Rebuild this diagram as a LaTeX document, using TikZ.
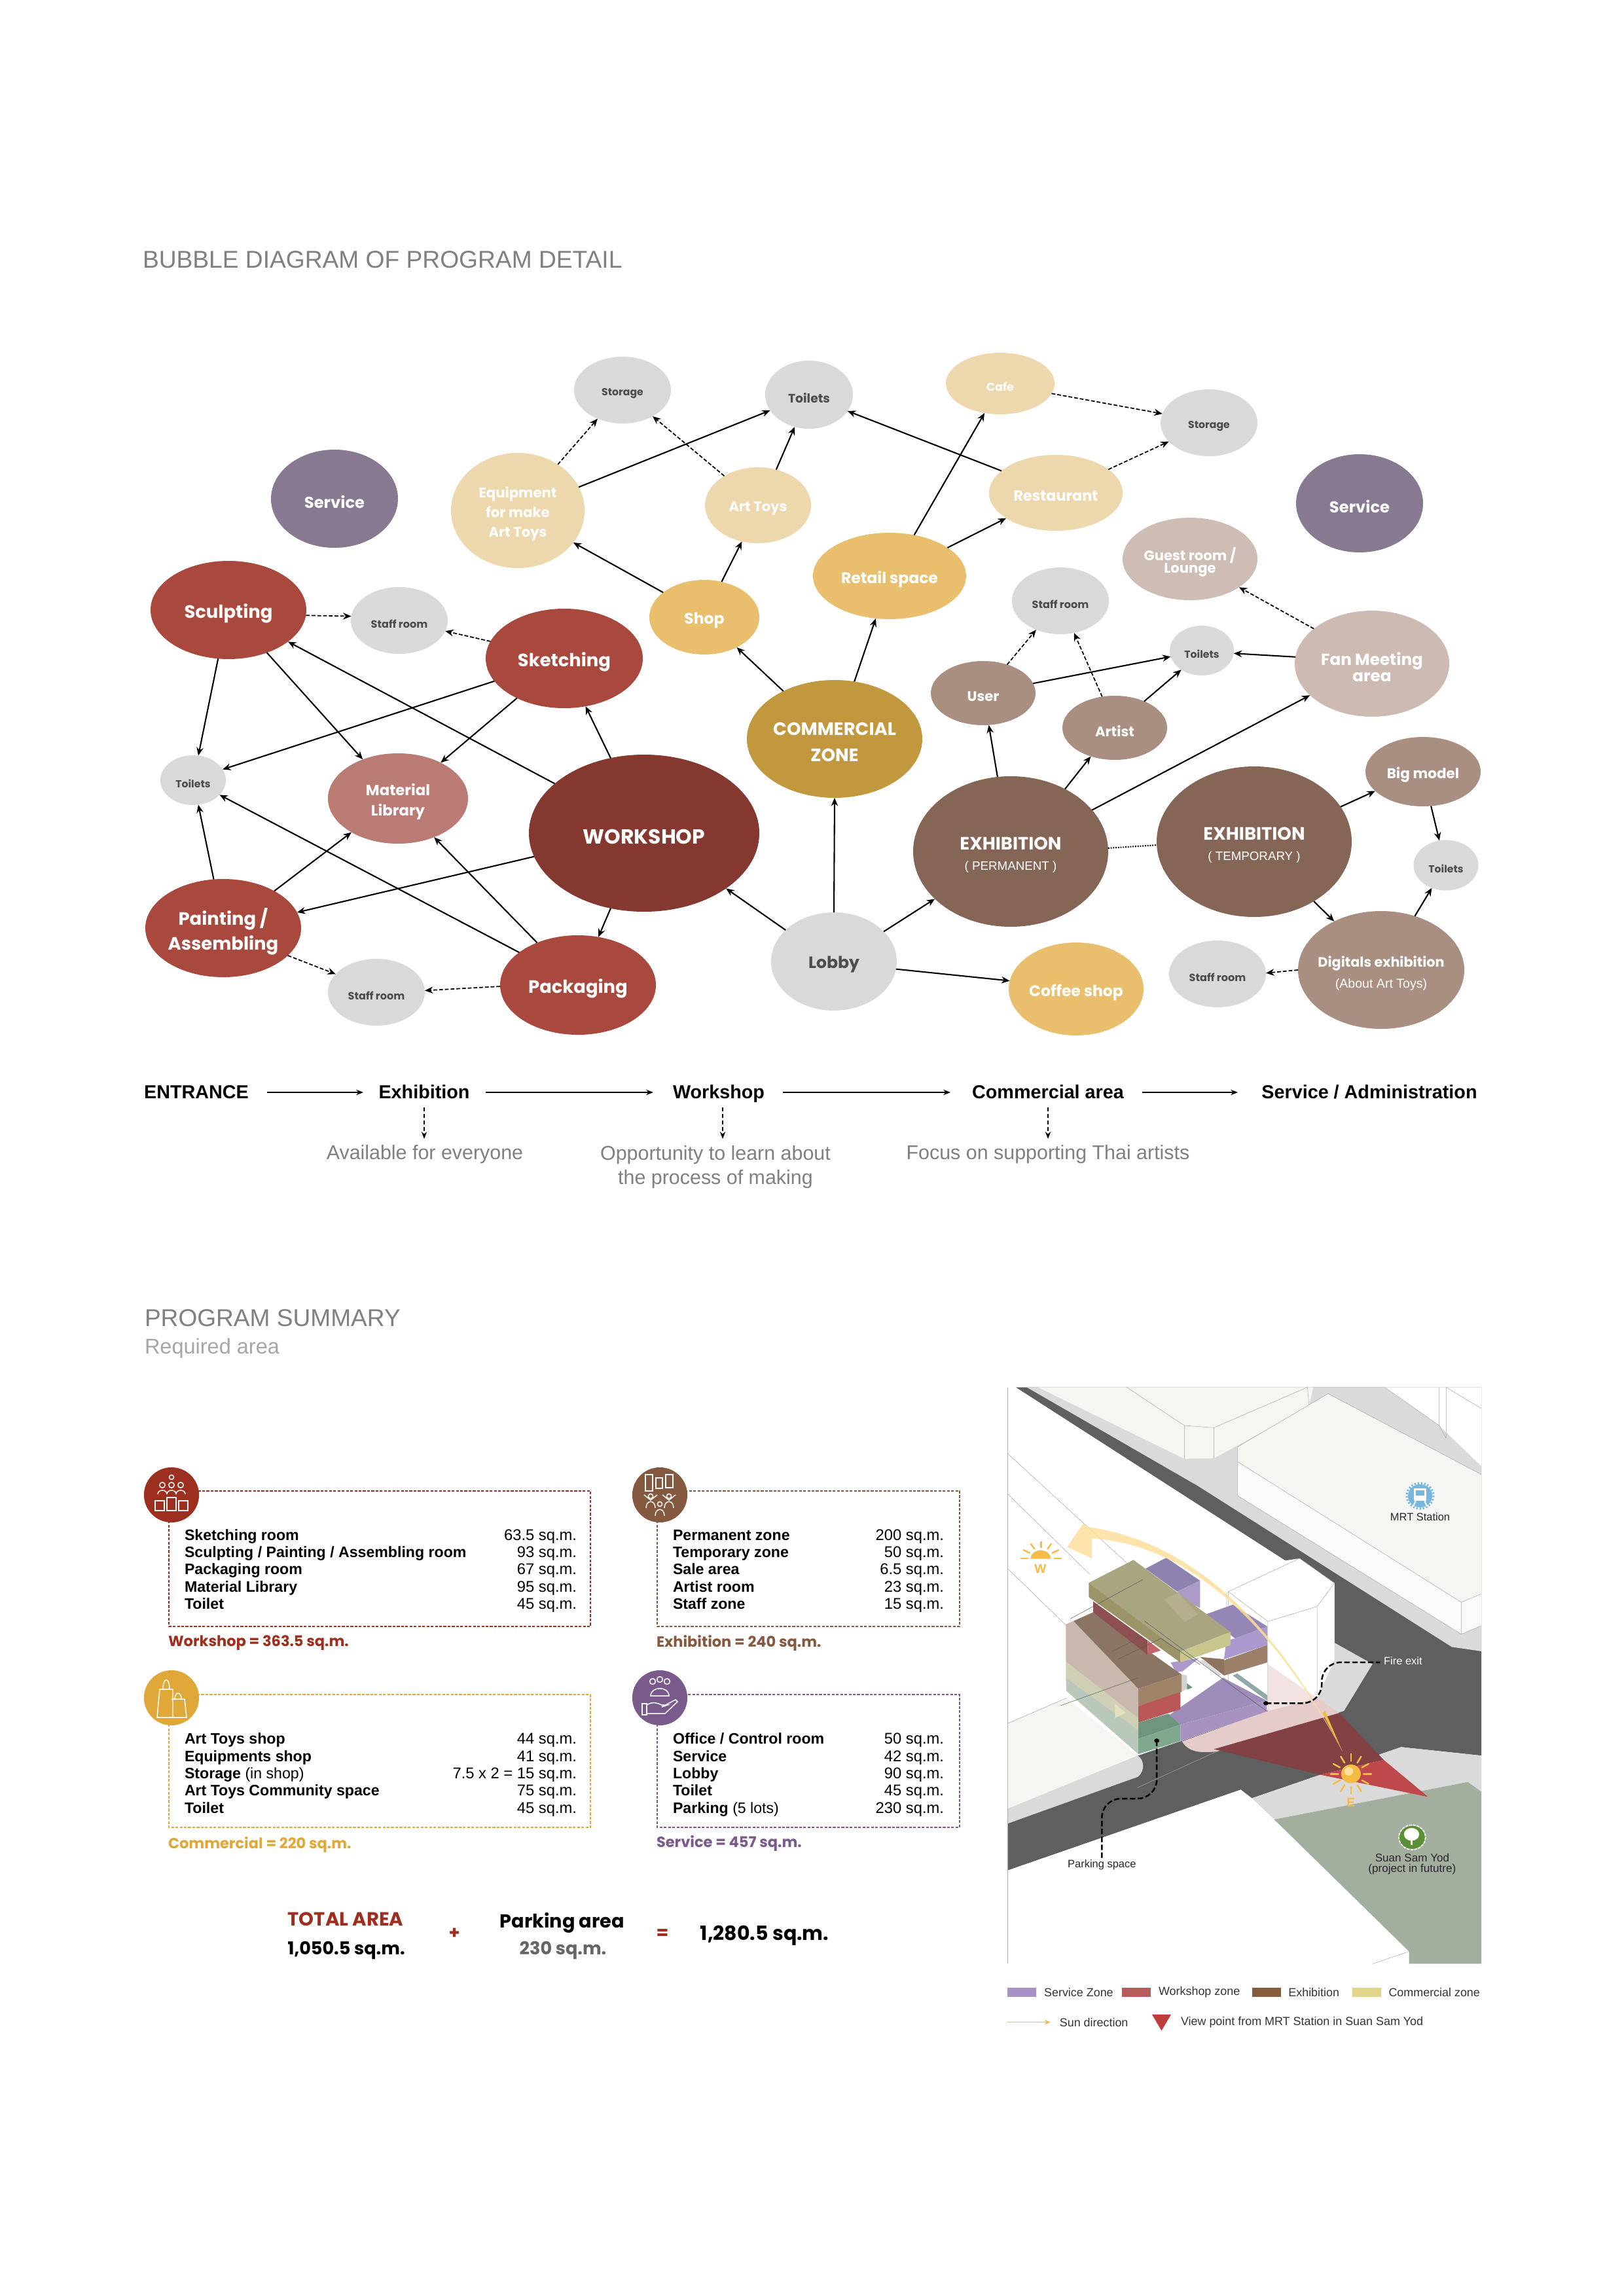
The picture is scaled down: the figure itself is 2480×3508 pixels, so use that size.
\documentclass[tikz,border=0pt]{standalone}
\usepackage{fontspec}
\setmainfont{Liberation Sans}
\newfontfamily\bubf{Poppins}
\usetikzlibrary{shapes.geometric,arrows.meta}
\definecolor{cWork}{HTML}{853830}
\definecolor{cRed}{HTML}{A9483C}
\definecolor{cMat}{HTML}{B97B74}
\definecolor{cCom}{HTML}{C2983F}
\definecolor{cGold}{HTML}{E9BF6E}
\definecolor{cCream}{HTML}{EDD8AE}
\definecolor{cGrey}{HTML}{D9D9D9}
\definecolor{cServ}{HTML}{87798F}
\definecolor{cExh}{HTML}{856556}
\definecolor{cExl}{HTML}{A98F82}
\definecolor{cFan}{HTML}{CDBAB2}
\definecolor{cGuest}{HTML}{CDBDB5}
\definecolor{tDark}{HTML}{4D4D4D}
\definecolor{bWork}{HTML}{9D2F20}
\definecolor{bExh}{HTML}{85593F}
\definecolor{bCom}{HTML}{E0A838}
\definecolor{bSrv}{HTML}{7A5A8C}
\definecolor{road}{HTML}{5F5F5F}
\definecolor{walk}{HTML}{DADADA}
\definecolor{park}{HTML}{A3AE9E}
\definecolor{bldg}{HTML}{F5F5F2}
\definecolor{mPur}{HTML}{A692C4}
\definecolor{mRed}{HTML}{B85A5C}
\definecolor{mBrn}{HTML}{855C3E}
\definecolor{mYel}{HTML}{E0D58A}
\definecolor{sunY}{HTML}{FBDF9B}
\definecolor{sunO}{HTML}{F5BC45}
\tikzset{
 bubble/.style={ellipse,inner sep=-200pt,outer sep=0pt,text=white},
 fs/.style 2 args={font=\bubf\bfseries\fontsize{\fpeval{0.94*#1}}{#2}\selectfont},
 arr/.style={draw=black,line width=0.5pt,-{Stealth[length=3pt,width=2.5pt]}},
 darr/.style={arr,line width=0.42pt,dash pattern=on 1.4pt off 0.7pt},
 dotline/.style={draw=black,line width=0.5pt,dash pattern=on 0.45pt off 0.45pt},
 flowarr/.style={draw=black,line width=0.4pt,-{Stealth[length=2.6pt,width=2pt]}},
 flowd/.style={draw=black,line width=0.4pt,dash pattern=on 1.4pt off 1pt,-{Stealth[length=2.6pt,width=2pt]}},
 htext/.style={inner sep=0pt,outer sep=0pt},
 boxline/.style={line width=0.5pt,dash pattern=on 1pt off 0.55pt},
 rowl/.style={htext,anchor=base west,font=\bfseries\fontsize{5.55}{6.4}\selectfont},
 rowr/.style={htext,anchor=base east,font=\fontsize{5.7}{6.4}\selectfont},
 sumt/.style={htext,anchor=west,font=\bubf\bfseries\fontsize{5.4}{6}\selectfont},
 tot/.style={htext,font=\bubf\bfseries\fontsize{6.5}{7}\selectfont},
 icon/.style={draw=white,line width=0.35pt,fill=none},
 stxt/.style={htext,font=\fontsize{3.95}{4.2}\selectfont,text=black!85},
 leader/.style={draw=black,line width=0.6pt,dash pattern=on 2pt off 0.9pt},
 thin site/.style={draw=black!35,line width=0.12pt},
 mline/.style={draw=black!65,line width=0.12pt},
 lgd/.style={htext,anchor=west,font=\fontsize{4.3}{4.6}\selectfont,text=black!80},
 flowt/.style={htext,anchor=base,font=\bfseries\fontsize{6.9}{8}\selectfont},
 desc/.style={htext,text=black!50,font=\fontsize{7.3}{9.1}\selectfont,align=center},
}
\newcommand\Bub[7]{\node[bubble,minimum width={2*#4*0.24pt},minimum height={2*#5*0.24pt},#6] (#1) at (#2,#3) {\raisebox{-1.2pt}[\height][\depth]{\parbox{200pt}{\centering #7}}};}
\begin{document}
\begin{tikzpicture}[x=0.24pt,y=-0.24pt]
\useasboundingbox (0,0) rectangle (2480,3508);
\fill[white] (0,0) rectangle (2480,3508);

\node[htext,anchor=west,text=black!50,font=\fontsize{8.92}{10}\selectfont] (title1) at (218,397) {BUBBLE DIAGRAM OF PROGRAM DETAIL};

% ---------- bubbles
\Bub{storageA}{951}{596}{74}{51}{fill=cGrey,text=tDark,fs={4}{5}}{Storage}
\Bub{toiletsT}{1236}{603}{67}{52}{fill=cGrey,text=tDark,fs={4.8}{6}}{Toilets}
\Bub{cafe}{1528}{586}{83}{47}{fill=cCream,fs={4.4}{5}}{Cafe}
\Bub{storageB}{1847}{646}{74}{51}{fill=cGrey,text=tDark,fs={4}{5}}{Storage}
\Bub{serviceA}{511}{762}{97}{75}{fill=cServ,fs={6.2}{7}}{Service}
\Bub{serviceB}{2077}{769}{97}{75}{fill=cServ,fs={6.2}{7}}{Service}
\Bub{equip}{791}{780}{102}{88}{fill=cCream,fs={5.4}{7.2}}{Equipment\\for make\\Art Toys}
\Bub{arttoys}{1158}{772}{81}{58}{fill=cCream,fs={5.4}{7}}{Art Toys}
\Bub{restaurant}{1613}{753}{102}{58}{fill=cCream,fs={5.7}{7}}{Restaurant}
\Bub{guest}{1818}{854}{103}{63}{fill=cGuest,fs={5.4}{4.6}}{Guest room /\\Lounge}
\Bub{retail}{1359}{880}{117}{66}{fill=cGold,fs={6}{7}}{Retail space}
\Bub{shop}{1076}{943}{84}{57}{fill=cGold,fs={6}{7}}{Shop}
\Bub{sculpt}{349}{932}{119}{75}{fill=cRed,fs={7}{8}}{Sculpting}
\Bub{staffA}{610}{948}{74}{51}{fill=cGrey,text=tDark,fs={4.1}{5}}{Staff room}
\Bub{staffC}{1620}{918}{74}{51}{fill=cGrey,text=tDark,fs={4.1}{5}}{Staff room}
\Bub{sketch}{862}{1006}{120}{76}{fill=cRed,fs={7}{8}}{Sketching}
\Bub{toiletsM}{1836}{994}{49}{38}{fill=cGrey,text=tDark,fs={4}{5}}{Toilets}
\Bub{fan}{2096}{1014}{118}{81}{fill=cFan,fs={6.3}{6}}{Fan Meeting\\area}
\Bub{user}{1502}{1059}{80}{49}{fill=cExl,fs={5.4}{6}}{User}
\Bub{artist}{1703}{1112}{80}{49}{fill=cExl,fs={5.4}{6}}{Artist}
\Bub{commercial}{1275}{1129}{134}{90}{fill=cCom,fs={7}{9.6}}{COMMERCIAL\\ZONE}
\Bub{toiletsL}{295}{1192}{50}{38}{fill=cGrey,text=tDark,fs={4}{5}}{Toilets}
\Bub{material}{608}{1220}{107}{69}{fill=cMat,fs={5.8}{7.4}}{Material\\Library}
\Bub{workshop}{984}{1273}{176}{120}{fill=cWork,fs={8}{9}}{WORKSHOP}
\Bub{bigmodel}{2174}{1179}{88}{53}{fill=cExl,fs={5.5}{6}}{Big model}
\Bub{exhP}{1544}{1301}{149}{115}{fill=cExh,fs={7}{7.8}}{EXHIBITION\\[-0.4pt]{\fontsize{4.5}{5}\selectfont\rmfamily\mdseries ( PERMANENT )}}
\Bub{exhT}{1916}{1286}{149}{115}{fill=cExh,fs={7}{7.8}}{EXHIBITION\\[-0.4pt]{\fontsize{4.5}{5}\selectfont\rmfamily\mdseries ( TEMPORARY )}}
\Bub{toiletsR}{2209}{1322}{49.5}{38.5}{fill=cGrey,text=tDark,fs={4}{5}}{Toilets}
\Bub{painting}{341}{1418}{119}{75}{fill=cRed,fs={7}{9}}{Painting /\\Assembling}
\Bub{lobby}{1274}{1469}{96}{75}{fill=cGrey,text=tDark,fs={6.4}{7}}{Lobby}
\Bub{digital}{2110}{1482}{127}{90}{fill=cExl,fs={5.3}{7.6}}{Digitals exhibition\\{\fontsize{4.7}{6}\selectfont\rmfamily\mdseries (About Art Toys)}}
\Bub{staffD}{1860}{1488}{74}{51}{fill=cGrey,text=tDark,fs={4.1}{5}}{Staff room}
\Bub{coffee}{1644}{1511}{103}{71}{fill=cGold,fs={6}{7}}{Coffee shop}
\Bub{staffB}{575}{1516}{74}{51}{fill=cGrey,text=tDark,fs={4.1}{5}}{Staff room}
\Bub{packaging}{883}{1505}{119}{76}{fill=cRed,fs={7}{8}}{Packaging}

% ---------- connectors
\draw[darr] (equip.49.7) -- (storageA.229.6);
\draw[arr] (equip.21.7) -- (toiletsT.202.6);
\draw[darr] (arttoys.139) -- (storageA.319.3);
\draw[arr] (shop.149.3) -- (equip.330);
\draw[arr] (shop.64.3) -- (arttoys.246);
\draw[arr] (arttoys.63.9) -- (toiletsT.246.2);
\draw[arr] (commercial.137.3) -- (shop.317.3);
\draw[darr] (sculpt.356.6) -- (staffA.175.4);
\draw[darr] (sketch.167) -- (staffA.347);
\draw[arr] (workshop.114.3) -- (sketch.294.6);
\draw[arr] (workshop.151.3) -- (sculpt.332.2);
\draw[arr] (sculpt.258) -- (toiletsL.78);
\draw[arr] (sculpt.312.3) -- (material.132.5);
\draw[arr] (sketch.198.4) -- (toiletsL.20.3);
\draw[arr] (sketch.220.6) -- (material.40.2);
\draw[arr] (painting.101.3) -- (toiletsL.282);
\draw[arr] (painting.36.5) -- (material.216.4);
\draw[arr] (workshop.192.5) -- (painting.12.6);
\draw[arr] (packaging.151.7) -- (toiletsL.331.8);
\draw[arr] (packaging.134.1) -- (material.313.5);
\draw[arr] (workshop.246.3) -- (packaging.67);
\draw[darr] (painting.337) -- (staffB.156.8);
\draw[darr] (packaging.181.9) -- (staffB.2.3);
\draw[arr] (lobby.147) -- (workshop.326.3);
\draw[arr] (restaurant.158.8) -- (toiletsT.337.4);
\draw[arr] (retail.59.6) -- (cafe.242.4);
\draw[arr] (retail.26.3) -- (restaurant.207.4);
\draw[darr] (cafe.349.4) -- (storageB.169.6);
\draw[darr] (restaurant.24.2) -- (storageB.205.4);
\draw[arr] (commercial.71.2) -- (retail.252.3);
\draw[darr] (fan.149.5) -- (guest.330.2);
\draw[darr] (user.50) -- (staffC.230);
\draw[darr] (artist.112.6) -- (staffC.293.2);
\draw[arr] (user.11.7) -- (toiletsM.191.8);
\draw[arr] (artist.42.3) -- (toiletsM.223);
\draw[arr] (fan.175.6) -- (toiletsM.355.4);
\draw[arr] (exhP.100) -- (user.280.6);
\draw[arr] (exhP.49.8) -- (artist.230);
\draw[arr] (exhP.27.9) -- (fan.207.5);
\draw[dotline] (exhP.2.7) -- (exhT.182.3);
\draw[arr] (lobby.90) -- (commercial.270);
\draw[arr] (lobby.31.6) -- (exhP.212);
\draw[arr] (lobby.353.5) -- (coffee.173.2);
\draw[arr] (exhT.22.6) -- (bigmodel.202.6);
\draw[arr] (bigmodel.283.8) -- (toiletsR.105);
\draw[arr] (exhT.315) -- (digital.134.2);
\draw[arr] (digital.58.7) -- (toiletsR.238.6);
\draw[darr] (digital.180.9) -- (staffD.1.5);

% ---------- flow
\node[flowt] (fE) at (300,1678) {ENTRANCE};
\node[flowt] (fX) at (648,1678) {Exhibition};
\node[flowt] (fW) at (1098,1678) {Workshop};
\node[flowt] (fC) at (1601,1678) {Commercial area};
\node[flowt] (fS) at (2092,1678) {Service / Administration};
\coordinate (fE1) at (408,1669); \coordinate (fE2) at (555,1669);
\coordinate (fX1) at (742,1669); \coordinate (fX2) at (998,1669);
\coordinate (fW1) at (1196,1669); \coordinate (fW2) at (1452,1669);
\coordinate (fC1) at (1745,1669); \coordinate (fC2) at (1891,1669);
\draw[flowarr] (fE1) -- (fE2);
\draw[flowarr] (fX1) -- (fX2);
\draw[flowarr] (fW1) -- (fW2);
\draw[flowarr] (fC1) -- (fC2);
\node[desc] (dX) at (649,1764) {Available for everyone};
\node[desc,anchor=north] (dW) at (1093,1750) {Opportunity to learn about\\the process of making};
\node[desc] (dC) at (1601,1764) {Focus on supporting Thai artists};
\coordinate (fXd) at (648,1692); \coordinate (fXe) at (648,1740);
\coordinate (fWd) at (1104,1692); \coordinate (fWe) at (1104,1740);
\coordinate (fCd) at (1601,1692); \coordinate (fCe) at (1601,1740);
\draw[flowd] (fXd) -- (fXe);
\draw[flowd] (fWd) -- (fWe);
\draw[flowd] (fCd) -- (fCe);

% ---------- program summary
\node[htext,anchor=west,text=black!50,font=\fontsize{8.9}{10}\selectfont] (title2) at (221,2014) {PROGRAM SUMMARY};
\node[htext,anchor=west,text=black!35,font=\fontsize{7.8}{9}\selectfont] (title3) at (221,2060) {Required area};

\draw[bWork,boxline] (258,2278) rectangle (902,2485);
\draw[bExh,boxline] (1004,2278) rectangle (1466,2485);
\draw[bCom,boxline] (258,2589) rectangle (902,2792);
\draw[bSrv,boxline] (1004,2589) rectangle (1466,2792);
\node[circle,fill=bWork,minimum size=20.2pt,inner sep=0pt] (ic1) at (262,2284) {};
\node[circle,fill=bExh,minimum size=20.2pt,inner sep=0pt] (ic2) at (1008,2284) {};
\node[circle,fill=bCom,minimum size=20.2pt,inner sep=0pt] (ic3) at (262,2594) {};
\node[circle,fill=bSrv,minimum size=20.2pt,inner sep=0pt] (ic4) at (1008,2594) {};
% icons
\begin{scope}[shift={(262,2284)}]
 \draw[icon] (0,-27) circle (3.5);
 \foreach \a in {-14,0,14} {\draw[icon] (\a,-15) circle (4.2); \draw[icon] (\a-7,-1) .. controls (\a-7,-9) and (\a+7,-9) .. (\a+7,-1);}
 \draw[icon] (-7,4) rectangle (7,24);
 \draw[icon] (-25,9) rectangle (-11,24);
 \draw[icon] (11,9) rectangle (25,24);
\end{scope}
\begin{scope}[shift={(1008,2284)}]
 \draw[icon] (-22,-31) rectangle (-11,-6);
 \draw[icon] (-6,-26) rectangle (4,-10);
 \draw[icon] (9,-31) rectangle (20,-11);
 \foreach \a/\b in {-14/2,0/14,14/2} {\draw[icon] (\a,\b) circle (3.6); \draw[icon] (\a-7,\b+18) .. controls (\a-7,\b+5) and (\a+7,\b+5) .. (\a+7,\b+18);}
 \draw[icon] (-24,0) -- (-14,8) -- (-4,0);
 \draw[icon] (4,0) -- (14,8) -- (24,0);
\end{scope}
\begin{scope}[shift={(262,2594)}]
 \draw[icon] (-18,-13) -- (2,-13) -- (2,30) -- (-22,30) -- cycle;
 \draw[icon] (-13,-13) .. controls (-13,-32) and (-3,-32) .. (-3,-13);
 \draw[icon] (0,2) -- (20,2) -- (23,30) -- (-2,30);
 \draw[icon] (5,2) .. controls (5,-10) and (15,-10) .. (15,2);
\end{scope}
\begin{scope}[shift={(1008,2594)}]
 \foreach \a/\b in {-11/-25,11/-25,0/-28} {\draw[icon] (\a,\b) circle (4.4);}
 \draw[icon] (-14,-3) .. controls (-14,-18) and (14,-18) .. (14,-3) -- cycle;
 \draw[icon] (-27,9) rectangle (-20,26);
 \draw[icon] (-20,11) .. controls (-10,5) and (-4,8) .. (3,11) -- (12,11) -- (3,14) (3,14) -- (24,3) -- (27,6) -- (8,24) -- (-20,24);
\end{scope}

% box rows
\foreach \n/\y/\t/\v in {a/2353/Sketching room/63.5 sq.m.,b/2379/Sculpting \slash{} Painting \slash{} Assembling room/93 sq.m.,c/2405/Packaging room/67 sq.m.,d/2432/Material Library/95 sq.m.,e/2458/Toilet/45 sq.m.}
 {\node[rowl] (w\n) at (282,\y) {\t}; \node[rowr] (wv\n) at (881,\y) {\v};}
\foreach \n/\y/\t/\v in {a/2353/Permanent zone/200 sq.m.,b/2379/Temporary zone/50 sq.m.,c/2405/Sale area/6.5 sq.m.,d/2432/Artist room/23 sq.m.,e/2458/Staff zone/15 sq.m.}
 {\node[rowl] (x\n) at (1028,\y) {\t}; \node[rowr] (xv\n) at (1442,\y) {\v};}
\foreach \n/\y/\t/\v in {a/2664/Art Toys shop/44 sq.m.,b/2691/Equipments shop/41 sq.m.,c/2717/Storage {\mdseries (in shop)}/7.5 x 2 = 15 sq.m.,d/2743/Art Toys Community space/75 sq.m.,e/2770/Toilet/45 sq.m.}
 {\node[rowl] (c\n) at (282,\y) {\t}; \node[rowr] (cv\n) at (881,\y) {\v};}
\foreach \n/\y/\t/\v in {a/2664/Office \slash{} Control room/50 sq.m.,b/2691/Service/42 sq.m.,c/2717/Lobby/90 sq.m.,d/2743/Toilet/45 sq.m.,e/2770/Parking {\mdseries (5 lots)}/230 sq.m.}
 {\node[rowl] (s\n) at (1028,\y) {\t}; \node[rowr] (sv\n) at (1442,\y) {\v};}

\node[sumt,text=bWork] (sumW) at (257,2510) {Workshop = 363.5 sq.m.};
\node[sumt,text=bExh] (sumX) at (1003,2510) {Exhibition = 240 sq.m.};
\node[sumt,text=bCom] (sumC) at (257,2818) {Commercial = 220 sq.m.};
\node[sumt,text=bSrv] (sumS) at (1003,2816) {Service = 457 sq.m.};

\node[tot,text=bWork,font=\bubf\bfseries\fontsize{7}{8}\selectfont] (tA) at (528,2932) {TOTAL AREA};
\node[tot] (tB) at (529,2980) {1,050.5 sq.m.};
\node[tot,text=bWork] (tP) at (694,2954) {+};
\node[tot,font=\bubf\bfseries\fontsize{6.9}{8}\selectfont] (tC) at (859,2938) {Parking area};
\node[tot,text=black!60] (tD) at (860,2980) {230 sq.m.};
\node[tot,text=bWork] (tE) at (1012,2955) {=};
\node[tot,font=\bubf\bfseries\fontsize{7.2}{8}\selectfont] (tF) at (1168,2957) {1,280.5 sq.m.};

% ---------- site plan
\begin{scope}[shift={(1520,2100)},x=0.11634pt,y=-0.15615pt]
\begin{scope}
\clip (39,30) rectangle (1533,1384);
\fill[road] (65,30) -- (1533,30) -- (1533,895) -- (1280,875) -- (810,995) -- (775,975) -- (39,1165) -- (39,1050) -- cycle;
\fill[walk] (100,30) -- (640,262) -- (1440,640) -- (1533,650) -- (1533,30) -- cycle;
% upper row building
\fill[bldg] (135,30) -- (597,198) -- (690,197) -- (990,75) -- (1003,30) -- cycle;
\draw[thin site] (415,30) -- (597,120) -- (690,125) -- (985,30);
\draw[thin site] (597,120) -- (597,198) (690,125) -- (690,197) (985,30) -- (990,75);
% right building
\fill[bldg] (765,170) -- (1050,45) -- (1533,235) -- (1533,515) -- (1470,535) -- (765,205) -- cycle;
\fill[black!2] (765,205) -- (1470,535) -- (1470,610) -- (765,285) -- cycle;
\fill[black!2] (1470,535) -- (1533,515) -- (1533,590) -- (1470,610) -- cycle;
\draw[thin site] (765,170) -- (1050,45) -- (1533,235) (765,170) -- (765,285) -- (1470,610) -- (1533,590) (765,205) -- (1470,535) -- (1533,515) (1470,535) -- (1470,610);
\fill[white] (1228,30) -- (1400,120) -- (1533,215) -- (1533,30) -- cycle;
\draw[thin site] (1228,30) -- (1400,120) -- (1422,150) (1400,30) -- (1400,120) (1422,30) -- (1422,150) (1422,30) -- (1533,80);
% left block
\fill[white] (39,30) -- (65,30) -- (915,437) -- (960,432) -- (1070,490) -- (1070,630) -- (860,790) -- (590,860) -- (450,895) -- (39,1020) -- cycle;
\fill[walk] (39,1020) -- (450,895) .. controls (470,905) and (475,930) .. (450,945) -- (39,1055) -- cycle;
\fill[bldg] (39,820) -- (225,760) -- (450,895) -- (39,1020) -- cycle;
\draw[thin site] (39,185) -- (470,480) (39,280) -- (300,470) (39,455) -- (225,590) (39,820) -- (225,760);
\draw[thin site] (450,970) -- (700,885);
% lower plaza
\fill[white] (39,1165) -- (775,975) -- (1305,1355) -- (1305,1384) -- (39,1384) -- cycle;
\fill[walk] (810,995) -- (1280,875) -- (1533,895) -- (1533,980) -- (1490,957) -- (880,1045) -- cycle;
\fill[park] (880,1045) -- (1490,957) -- (1533,980) -- (1533,1384) -- (1305,1384) -- (1305,1355) -- cycle;
\draw[thin site] (1190,1384) -- (1305,1355);
% sidewalk by tower
\fill[walk] (590,862) .. controls (610,885) and (640,890) .. (700,885) -- (1100,790) -- (1190,680) -- (1070,630) -- (860,790) -- cycle;
% view cone
\fill[fill={rgb,255:red,229;green,204;blue,202}] (860,790) -- (1015,760) -- (1085,795) -- (700,885) .. controls (640,890) and (610,885) .. (590,862) -- cycle;
\fill[fill={rgb,255:red,130;green,66;blue,68}] (690,880) -- (1085,795) -- (1225,905) -- (1025,940) -- cycle;
\fill[fill={rgb,255:red,190;green,72;blue,76}] (1025,940) -- (1225,905) -- (1365,992) -- cycle;
% tower
\fill[white] (860,580) -- (1015,545) -- (1070,490) -- (1070,670) -- (1015,760) -- (860,790) -- cycle;
\fill[white] (735,510) -- (960,432) -- (1070,490) -- (1015,545) -- (860,580) -- cycle;
\fill[fill={rgb,255:red,242;green,226;blue,226}] (860,680) -- (1015,760) -- (860,790) -- cycle;
\fill[fill={rgb,255:red,232;green,205;blue,205}] (1015,760) -- (1040,770) -- (1015,778) -- cycle;
\draw[thin site] (735,510) -- (860,580) -- (1015,545) -- (1070,490) (860,580) -- (860,790) (1015,545) -- (1015,760) (735,510) -- (735,720) -- (860,790) (730,510) -- (730,700) (735,510) -- (960,432) -- (1070,490);
\end{scope}
\end{scope}
% masses in crop coordinates
\begin{scope}[shift={(1620,2350)},x=0.08pt,y=-0.08pt]
\fill[fill={rgb,255:red,142;green,131;blue,176}] (390,140) -- (485,90) -- (640,195) -- (535,245) -- cycle;
\fill[fill={rgb,255:red,171;green,155;blue,200}] (535,245) -- (640,195) -- (640,320) -- (580,290) -- cycle;
\fill[fill={rgb,255:red,148;green,135;blue,181}] (665,350) -- (790,305) -- (948,405) -- (800,460) -- cycle;
\fill[fill={rgb,255:red,171;green,152;blue,204}] (760,470) -- (800,460) -- (948,405) -- (948,490) -- (750,555) -- cycle;
\fill[fill={rgb,255:red,155;green,127;blue,104}] (750,560) -- (948,490) -- (948,570) -- (750,630) -- cycle;
\fill[fill={rgb,255:red,143;green,115;blue,94}] (640,545) -- (750,555) -- (750,630) -- cycle;
\fill[fill={rgb,255:red,143;green,169;blue,168}] (790,630) -- (810,620) -- (948,720) -- (948,745) -- cycle;
\fill[fill={rgb,255:red,156;green,141;blue,187}] (500,810) -- (745,640) -- (945,745) -- (550,855) -- cycle;
\fill[fill={rgb,255:red,168;green,146;blue,194}] (550,855) -- (945,745) -- (945,795) -- (550,930) -- cycle;
\fill[fill={rgb,255:red,171;green,152;blue,204}] (505,570) -- (635,550) -- (560,610) -- (530,615) -- cycle;
\fill[black!15] (640,565) -- (655,555) -- (735,625) -- (725,635) -- cycle;
\fill[black!18] (555,625) -- (580,630) -- (580,690) -- (555,705) -- cycle;
\fill[fill={rgb,255:red,111;green,149;blue,128}] (580,665) -- (605,685) -- (580,695) -- cycle;
% left stack
\fill[fill={rgb,255:red,200;green,184;blue,174}] (25,395) -- (60,380) -- (357,640) -- (357,845) -- (25,565) -- cycle;
\fill[fill={rgb,255:red,207;green,207;blue,181}] (25,565) -- (357,825) -- (357,880) -- (25,640) -- cycle;
\fill[fill={rgb,255:red,185;green,200;blue,186}] (25,640) -- (357,880) -- (357,990) -- (27,700) -- cycle;
\fill[fill={rgb,255:red,225;green,225;blue,190}] (250,760) -- (300,800) -- (250,825) -- cycle;
\fill[fill={rgb,255:red,138;green,117;blue,101}] (60,380) -- (150,340) -- (555,625) -- (357,690) -- cycle;
\fill[fill={rgb,255:red,159;green,132;blue,104}] (357,690) -- (555,625) -- (555,705) -- (357,770) -- cycle;
\fill[fill={rgb,255:red,184;green,86;blue,88}] (357,770) -- (550,705) -- (550,785) -- (357,845) -- cycle;
\fill[fill={rgb,255:red,111;green,149;blue,128}] (357,845) -- (495,805) -- (550,855) -- (357,920) -- cycle;
\fill[fill={rgb,255:red,128;green,168;blue,142}] (357,920) -- (550,855) -- (550,930) -- (357,990) -- cycle;
% upper slabs
\fill[fill={rgb,255:red,142;green,79;blue,80}] (150,290) -- (400,470) -- (400,535) -- (150,340) -- cycle;
\fill[fill={rgb,255:red,194;green,100;blue,104}] (400,470) -- (460,515) -- (400,535) -- cycle;
\fill[fill={rgb,255:red,169;green,165;blue,128}] (130,205) -- (335,100) -- (780,430) -- (550,520) -- cycle;
\fill[fill={rgb,255:red,181;green,175;blue,143}] (475,280) -- (540,250) -- (630,350) -- (570,385) -- cycle;
\fill[fill={rgb,255:red,154;green,148;blue,104}] (130,205) -- (550,520) -- (550,570) -- (130,270) -- cycle;
\fill[fill={rgb,255:red,200;green,198;blue,140}] (550,520) -- (780,430) -- (780,490) -- (550,570) -- cycle;
% fine lines over the masses
\draw[mline] (45,370) -- (378,190) (385,380) -- (770,665) -- (948,795) (235,520) -- (375,450) (265,555) -- (460,460) -- (640,580) (0,768) -- (357,640);
\end{scope}
\begin{scope}[shift={(1520,2100)},x=0.11634pt,y=-0.15615pt]
% sun arc
\fill[sunY,fill opacity=.85] (1095,885) .. controls (950,680) and (700,400) .. (292,358) -- (278,350) -- (228,405) -- (305,432) -- (305,385) .. controls (640,400) and (900,620) .. (1095,885) -- cycle;
\fill[sunO] (1095,885) -- (1040,790) -- (1032,795) -- cycle;
% sun icons
\foreach \a in {0,30,...,330} {\draw[sunO,line width=0.6pt,line cap=round] ({1122+40*cos(\a)},{938+30*sin(\a)}) -- ({1122+64*cos(\a)},{938+47*sin(\a)});}
\fill[sunO] (1122,938) ellipse (31 and 22);
\fill[sunY] (1115,932) ellipse (14 and 10);
\foreach \a in {180,210,...,360} {\draw[sunO,line width=0.6pt] ({145+40*cos(\a)},{432+25*sin(\a)}) -- ({145+65*cos(\a)},{432+40*sin(\a)});}
\fill[sunO] (112,433) arc (180:360:32 and 20) -- cycle;
\node[htext,text=sunO,font=\bfseries\fontsize{4.6}{5}\selectfont] (sunW) at (143,456) {W};
\node[htext,text=sunO,font=\bfseries\fontsize{4.6}{5}\selectfont] (sunE) at (1122,1005) {E};
% MRT icon
\fill[fill={rgb,255:red,118;green,183;blue,222}] (1340,285) ellipse (38 and 27);
\draw[draw={rgb,255:red,118;green,183;blue,222},line width=0.8pt,dash pattern=on 0.5pt off 0.7pt] (1340,285) ellipse (42 and 30);
\fill[white] (1320,267) rectangle (1360,297);
\fill[fill={rgb,255:red,118;green,183;blue,222}] (1327,272) rectangle (1353,284);
\draw[white,line width=0.5pt] (1326,297) -- (1318,310) (1354,297) -- (1362,310);
\node[stxt] (mrt) at (1340,335) {MRT Station};
% tree icon
\fill[fill={rgb,255:red,91;green,143;blue,53}] (1315,1087) ellipse (40 and 27);
\draw[white,line width=0.4pt,dash pattern=on 1pt off .4pt] (1315,1087) ellipse (42 and 29);
\fill[white] (1313,1080) ellipse (24 and 15);
\draw[white,line width=0.8pt] (1313,1085) -- (1313,1105);
\node[stxt,align=center,font=\fontsize{4.1}{3.9}\selectfont] (suan) at (1315,1150) {Suan Sam Yod\\(project in fututre)};
\node[stxt,text=white] (fire) at (1286,673) {Fire exit};
\node[stxt] (parktxt) at (337,1152) {Parking space};
\coordinate (fx1) at (854,772);
\coordinate (fx2) at (1214,676);
\coordinate (pk1) at (510,860);
\coordinate (pk2) at (337,1137);
\draw[leader,rounded corners=7pt] (fx1) -- (1030,772) -- (1030,676) -- (fx2);
\draw[leader,rounded corners=7pt] (pk1) -- (510,996) -- (337,996) -- (pk2);
\fill (fx1) ellipse (8 and 5);
\fill (pk1) ellipse (8 and 5);
\draw[black!30,line width=0.15pt] (39,30) -- (39,1384);
% legend
\fill[mPur] (39,1440) rectangle (130,1462);
\fill[mRed] (400,1440) rectangle (491,1462);
\fill[mBrn] (810,1440) rectangle (901,1462);
\fill[mYel] (1126,1440) rectangle (1217,1462);
\node[lgd] (l1) at (155,1451) {Service Zone};
\node[lgd] (l2) at (516,1451) {Workshop zone};
\node[lgd] (l3) at (925,1451) {Exhibition};
\node[lgd] (l4) at (1241,1451) {Commercial zone};
\coordinate (s1) at (39,1521); \coordinate (s2) at (175,1521);
\draw[sunO,line width=0.4pt,-{Stealth[length=2.2pt,width=1.8pt]}] (s1) -- (s2);
\node[lgd] (l5) at (204,1522) {Sun direction};
\fill[fill={rgb,255:red,190;green,60;blue,60}] (495,1503) -- (555,1503) -- (525,1541) -- cycle;
\node[lgd] (l6) at (586,1522) {View point from MRT Station in Suan Sam Yod};
\end{scope}
\end{tikzpicture}
\end{document}
